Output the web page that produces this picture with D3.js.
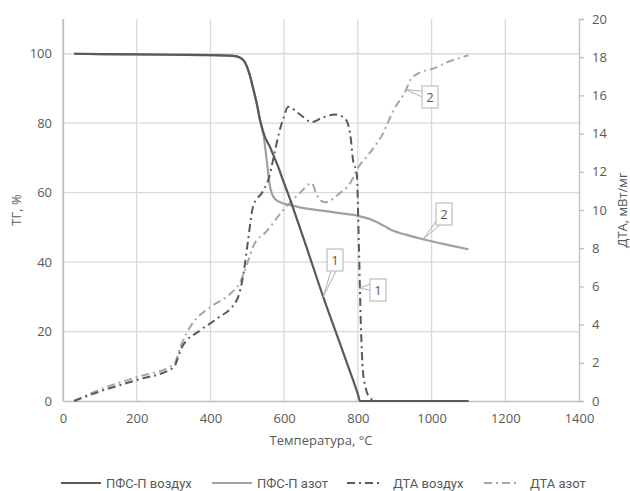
<!DOCTYPE html>
<html><head><meta charset="utf-8">
<script src="https://cdn.jsdelivr.net/npm/d3@7/dist/d3.min.js"></script>
<style>body{margin:0;background:#fff}</style>
</head><body>
<svg id="c" width="630" height="491"></svg>
<script>
// ---- data ----
const xTicks = [0,200,400,600,800,1000,1200,1400];
const yLeftTicks = [0,20,40,60,80,100];
const yRightTicks = [0,2,4,6,8,10,12,14,16,18,20];

const tgAirT = [30,100,200,300,400,462,480,494,505,516,526,535,548,560,570,584,597,611,624,660,706,750,787,800,806,850,900,1000,1100];
const tgAirV = [100,99.9,99.8,99.7,99.6,99.4,98.9,97.5,94.5,90,85.5,80.7,76,73.5,71,67.4,63.5,59.6,55.7,44.5,30,17,6,2,0,0,0,0,0];

const tgN2T = [30,100,200,300,400,462,480,494,505,516,526,535,545,553,562,575,600,621,650,697,750,798,842,870,896,930,969,1000,1050,1100];
const tgN2V = [100,99.9,99.8,99.7,99.6,99.4,98.9,97.5,94.5,90,85.5,80.7,76,69,61.6,58.2,56.8,56.3,55.6,54.9,54.1,53.4,52,50.5,49,47.9,46.8,46,44.8,43.7];

const dtaAirT = [30,100,200,300,322,372,417,472,490,502,516,543,559,573,587,598,611,643,675,700,738,765,779,787,797,803,808,814,820,828,850,900,1000,1100];
const dtaAirV = [0,0.5,1.1,1.75,2.8,3.7,4.3,5.3,6.7,8.4,10.2,11.0,11.7,12.9,14.1,14.8,15.4,15.0,14.6,14.8,15.0,14.8,14.0,12.6,11.9,8.0,4.1,1.5,0.8,0.3,0,0,0,0];

const dtaN2T = [30,100,200,300,322,349,399,453,480,500,516,553,598,643,675,688,710,752,779,800,833,868,896,931,942,969,1004,1050,1083,1100];
const dtaN2V = [0,0.6,1.25,1.9,3.0,4.0,4.9,5.6,6.2,7.2,8.1,8.9,10.0,10.9,11.4,10.8,10.4,10.9,11.4,12.2,13.0,14.0,15.2,16.3,16.8,17.2,17.4,17.8,18.0,18.1];

const legendNames = ["ПФС-П воздух","ПФС-П азот","ДТА воздух","ДТА азот"];

// ---- layout ----
const L=63, R=579, T=19, B=401;
const svg = d3.select("#c");
const x = d3.scaleLinear().domain([0,1400]).range([L,R]);
const yL = d3.scaleLinear().domain([0,110]).range([B,T]);
const yR = d3.scaleLinear().domain([0,20]).range([B,T]);

const grid = "#d9d9d9", axisC="#bfbfbf", txt="#595959";
const font = "'Open Sans', sans-serif";

// grid
svg.append("g").selectAll("line").data(xTicks.slice(1,-1)).join("line")
  .attr("x1",d=>x(d)).attr("x2",d=>x(d)).attr("y1",T).attr("y2",B)
  .attr("stroke",grid).attr("stroke-width",1.3);
svg.append("g").selectAll("line").data(yLeftTicks.slice(1)).join("line")
  .attr("x1",L).attr("x2",R).attr("y1",d=>yL(d)).attr("y2",d=>yL(d))
  .attr("stroke",grid).attr("stroke-width",1.3);

// axes
const fmt = d3.format("d");
const ax = svg.append("g").attr("transform",`translate(0,${B})`)
  .call(d3.axisBottom(x).tickValues(xTicks).tickFormat(fmt).tickSize(0).tickPadding(13));
const ayl = svg.append("g").attr("transform",`translate(${L},0)`)
  .call(d3.axisLeft(yL).tickValues(yLeftTicks).tickFormat(fmt).tickSize(0).tickPadding(11));
const ayr = svg.append("g").attr("transform",`translate(${R},0)`)
  .call(d3.axisRight(yR).tickValues(yRightTicks).tickFormat(fmt).tickSize(5).tickPadding(8));
[ax,ayl,ayr].forEach(g=>{
  g.select(".domain").attr("stroke",axisC).attr("stroke-width",1.3);
  g.selectAll(".tick line").attr("stroke",axisC).attr("stroke-width",1.3);
  g.selectAll("text").attr("fill",txt).attr("font-size",13).attr("font-family",font);
});
svg.append("line").attr("x1",L).attr("x2",L).attr("y1",T).attr("y2",B).attr("stroke",axisC).attr("stroke-width",1.3);

// titles
svg.append("text").attr("x",(L+R)/2).attr("y",445).attr("text-anchor","middle")
  .attr("fill",txt).attr("font-size",13).attr("font-family",font).text("Температура, °С");
svg.append("text").attr("transform","translate(21,210) rotate(-90)").attr("text-anchor","middle")
  .attr("fill",txt).attr("font-size",13).attr("font-family",font).text("ТГ, %");
svg.append("text").attr("transform","translate(627,210) rotate(-90)").attr("text-anchor","middle")
  .attr("fill",txt).attr("font-size",13).attr("font-family",font).text("ДТА, мВт/мг");

// lines
const mk = (ys)=>d3.line().x(d=>x(d[0])).y(d=>ys(d[1])).curve(d3.curveMonotoneX);
const zip=(a,b)=>a.map((v,i)=>[v,b[i]]);
const series = [
  {d:zip(dtaN2T,dtaN2V), s:yR, c:"#a6a6a6", w:2, dash:"8,4,2,4"},
  {d:zip(tgN2T,tgN2V), s:yL, c:"#a0a0a0", w:2.2, dash:null},
  {d:zip(dtaAirT,dtaAirV), s:yR, c:"#595959", w:2, dash:"8,4,2,4"},
  {d:zip(tgAirT,tgAirV), s:yL, c:"#595959", w:2.2, dash:null},
];
series.forEach(o=>{
  svg.append("path").attr("d",mk(o.s)(o.d)).attr("fill","none")
    .attr("stroke",o.c).attr("stroke-width",o.w)
    .attr("stroke-dasharray",o.dash);
});

// callouts
function callout(tx,ty,bx,by,a1,a2,label){
  const bw=16,bh=22;
  svg.append("path").attr("d",`M${a1[0]},${a1[1]}L${tx},${ty}L${a2[0]},${a2[1]}`)
    .attr("fill","none").attr("stroke","#b0b0b0").attr("stroke-width",1);
  svg.append("rect").attr("x",bx).attr("y",by).attr("width",bw).attr("height",bh)
    .attr("fill","#fff").attr("stroke","#bfbfbf").attr("stroke-width",1.2);
  svg.append("text").attr("x",bx+bw/2).attr("y",by+bh/2+4.5).attr("text-anchor","middle")
    .attr("fill",txt).attr("font-size",13).attr("font-family",font).text(label);
}
{ // TG air "1"
  const tx=x(706), ty=yL(30);
  callout(tx,ty,327,249,[331,271],[336,271],"1");
}
{ // DTA air "1"
  const tx=x(806)-1, ty=yR(5.9);
  callout(tx,ty,370,279,[370,284],[370,290],"1");
}
{ // TG N2 "2"
  const tx=x(977), ty=yL(46.6);
  callout(tx,ty,436,203,[437,220],[440,225],"2");
}
{ // DTA N2 "2"
  const tx=x(931), ty=yR(16.3);
  callout(tx,ty,422,86,[422,91],[422,97],"2");
}

// legend
const lg = [
  {x1:61,x2:101,tx:106,c:"#595959",dash:null},
  {x1:212,x2:252,tx:257,c:"#a0a0a0",dash:null},
  {x1:347,x2:381,tx:393,c:"#595959",dash:"8,4,2,4"},
  {x1:484,x2:518,tx:530,c:"#a6a6a6",dash:"8,4,2,4"},
];
lg.forEach((o,i)=>{
  svg.append("line").attr("x1",o.x1).attr("x2",o.x2).attr("y1",483).attr("y2",483)
    .attr("stroke",o.c).attr("stroke-width",2).attr("stroke-dasharray",o.dash);
  svg.append("text").attr("x",o.tx).attr("y",488).attr("fill",txt).attr("font-size",13)
    .attr("font-family","Roboto, sans-serif")
    .text(legendNames[i]);
});
</script>
</body></html>
